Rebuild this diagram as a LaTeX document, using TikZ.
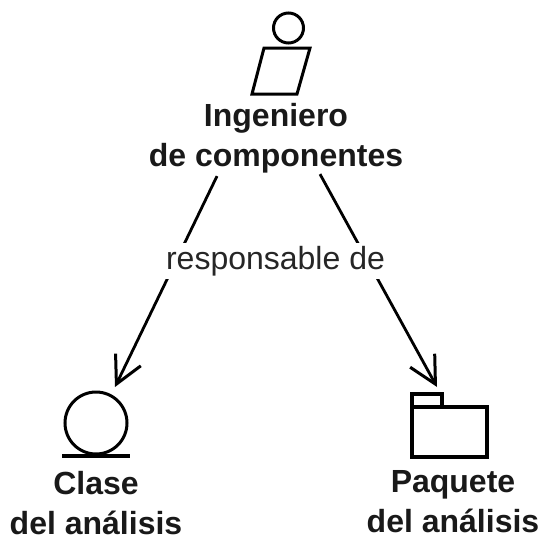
\documentclass[tikz,border=0pt]{standalone}
\usepackage{fontspec}
\setmainfont{Liberation Sans}
\usetikzlibrary{arrows.meta}
\tikzset{
  ink/.style={draw=black,line width=3pt,outer sep=0pt},
  title/.style={font=\fontsize{32}{40}\selectfont\bfseries,align=center,inner sep=0pt,text=black!90},
  link/.style={draw=black,line width=2.8pt,-{Straight Barb[length=27pt,width=28pt,line width=3pt]}},
  relabel/.style={font=\fontsize{32}{36}\selectfont,fill=white,inner xsep=1pt,inner ysep=3pt,text=black!85}
}
\begin{document}
\begin{tikzpicture}[x=1pt,y=-1pt]
\useasboundingbox (0,0) rectangle (547,546);
% actor
\node[ink,circle,minimum size=30pt,inner sep=0pt] (head) at (288.5,28) {};
\draw[ink,line join=miter] (264,48) -- (310,48) -- (297,94) -- (252,94) -- cycle;
\node[title] (ing) at (276,138) {Ingeniero\\de componentes};
% class
\node[ink,circle,minimum size=62pt,inner sep=0pt] (cc) at (96,423) {};
\draw[draw=black,line width=4pt] (cc.south -| 62,0) ++(0,2) -- ++(68,0);
\node[title] (cl) at (96,503) {Clase\\del análisis};
% package
\node[ink,rectangle,line width=3.4pt,minimum width=75pt,minimum height=50pt,inner sep=0pt] (body) at (449.5,432) {};
\node[ink,line width=3.4pt,rectangle,minimum width=30pt,minimum height=13pt,inner sep=0pt,anchor=south west] (tab) at (body.north west) {};
\node[title] (pq) at (453,502) {Paquete\\del análisis};
% connectors
\draw[link] ([xshift=-59pt,yshift=-3pt]ing.south) -- ([xshift=19pt,yshift=5pt]cc.north);
\draw[link] ([xshift=44pt,yshift=-1pt]ing.south) -- ([xshift=10pt,yshift=7pt]tab.north);
\node[relabel] (resp) at (275.5,261) {responsable de};
\end{tikzpicture}
\end{document}
